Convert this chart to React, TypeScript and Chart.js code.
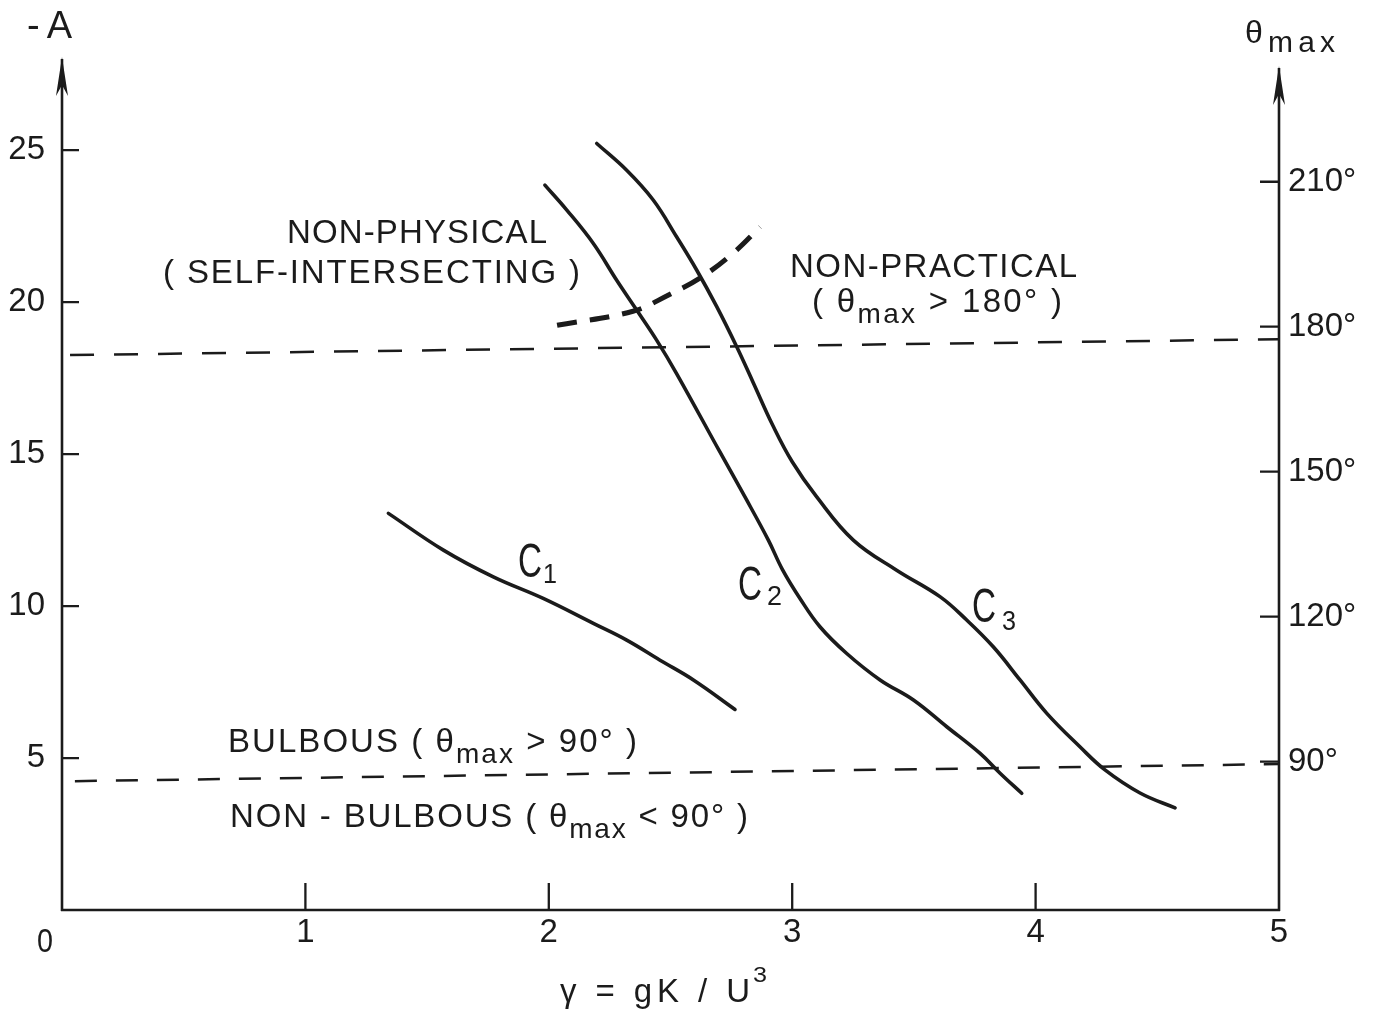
import React, { useEffect, useRef } from 'react';
import { Chart, registerables } from 'chart.js';

Chart.register(...registerables);

const FONT = "'Liberation Sans Narrow', 'Liberation Sans', Arial, sans-serif";
const INK = '#1b1b1b';

// Axis ticks
const xTicks = [1, 2, 3, 4, 5];
const aTicks = [5, 10, 15, 20, 25];
const thetaTicks = [90, 120, 150, 180, 210];

// Curve C1
const c1Gamma = [1.341, 1.567, 1.772, 1.977, 2.183, 2.32, 2.457, 2.594, 2.765];
const c1A = [13.05, 11.84, 10.96, 10.25, 9.43, 8.88, 8.22, 7.57, 6.6];

// Curve C2
const c2Gamma = [1.984, 2.074, 2.183, 2.279, 2.361, 2.443, 2.525, 2.703, 2.806, 2.902, 2.96, 3.032, 3.114, 3.224, 3.361, 3.498, 3.635, 3.772, 3.854, 3.943];
const c2A = [23.85, 23.03, 21.93, 20.72, 19.74, 18.75, 17.65, 15.07, 13.59, 12.17, 11.2, 10.25, 9.32, 8.44, 7.57, 6.91, 6.03, 5.15, 4.5, 3.84];

// Curve C3
const c3Gamma = [2.197, 2.32, 2.429, 2.525, 2.608, 2.69, 2.772, 2.84, 2.92, 3.0, 3.1, 3.251, 3.429, 3.607, 3.717, 3.826, 3.936, 4.046, 4.182, 4.285, 4.429, 4.573];
const c3A = [25.22, 24.34, 23.36, 22.15, 21.05, 19.85, 18.53, 17.35, 15.95, 14.75, 13.6, 12.17, 11.18, 10.31, 9.54, 8.66, 7.57, 6.47, 5.37, 4.61, 3.85, 3.36];

// Self-intersection boundary (heavy dashed)
const limitGamma = [2.034, 2.346, 2.49, 2.621, 2.757, 2.868];
const limitA = [19.24, 19.7, 20.23, 20.79, 21.61, 22.47];

// theta_max = 180 deg and 90 deg boundaries (as drawn)
const line180Gamma = [0.033, 5];
const line180A = [18.26, 18.78];
const line90Gamma = [0.053, 5];
const line90A = [4.24, 4.8];

type Seg = { t: string; size: number; dy?: number };

function drawFitted(ctx: CanvasRenderingContext2D, segs: Seg[], left: number, baseline: number, width: number) {
  const chars: { ch: string; size: number; dy: number; w: number }[] = [];
  segs.forEach((s) => {
    ctx.font = `${s.size}px ${FONT}`;
    for (const ch of s.t) chars.push({ ch, size: s.size, dy: s.dy || 0, w: ctx.measureText(ch).width });
  });
  const nat = chars.reduce((a, c) => a + c.w, 0);
  let sp = chars.length > 1 ? (width - nat) / (chars.length - 1) : 0;
  let sx = 1;
  if (chars.length === 1 || sp < 0) {
    sp = 0;
    sx = width / nat;
  }
  let x = left;
  ctx.fillStyle = INK;
  ctx.textAlign = 'left';
  ctx.textBaseline = 'alphabetic';
  for (const c of chars) {
    ctx.font = `${c.size}px ${FONT}`;
    ctx.save();
    ctx.translate(x, baseline + c.dy);
    ctx.scale(sx, 1);
    ctx.fillText(c.ch, 0, 0);
    ctx.restore();
    x += c.w * sx + sp;
  }
}

const mk = (xs: number[], ys: number[]) => xs.map((x, i) => ({ x, y: ys[i] }));

const decorPlugin = {
  id: 'decor',
  beforeDraw(chart: any) {
    const ctx = chart.ctx;
    ctx.save();
    ctx.fillStyle = '#ffffff';
    ctx.fillRect(0, 0, chart.width, chart.height);
    ctx.restore();
  },
  afterDraw(chart: any) {
    const ctx: CanvasRenderingContext2D = chart.ctx;
    const { left: L, right: R, top: T, bottom: B } = chart.chartArea;
    const xs = chart.scales.x;
    const ys = chart.scales.y;
    const ts = chart.scales.y2;
    ctx.save();
    ctx.strokeStyle = INK;
    ctx.fillStyle = INK;
    ctx.lineWidth = 2.6;
    ctx.lineCap = 'butt';
    ctx.setLineDash([]);
    // axes
    ctx.beginPath();
    ctx.moveTo(L, B + 1);
    ctx.lineTo(L, T);
    ctx.moveTo(L - 1, B);
    ctx.lineTo(R + 1, B);
    ctx.moveTo(R, B + 1);
    ctx.lineTo(R, T + 9);
    ctx.stroke();
    // arrowheads
    const arrow = (x: number, tip: number) => {
      ctx.beginPath();
      ctx.moveTo(x, tip - 2);
      ctx.lineTo(x - 6, tip + 37);
      ctx.lineTo(x, tip + 26);
      ctx.lineTo(x + 6, tip + 37);
      ctx.closePath();
      ctx.fill();
    };
    arrow(L, T);
    arrow(R, T + 9);
    // tick marks
    ctx.lineWidth = 2.3;
    ctx.beginPath();
    xTicks.forEach((v) => {
      if (v >= 5) return;
      const px = xs.getPixelForValue(v);
      ctx.moveTo(px, B);
      ctx.lineTo(px, B - 27);
    });
    aTicks.forEach((v) => {
      const py = ys.getPixelForValue(v);
      ctx.moveTo(L, py);
      ctx.lineTo(L + 17, py);
    });
    thetaTicks.forEach((v) => {
      const py = ts.getPixelForValue(v);
      ctx.moveTo(R - 19, py);
      ctx.lineTo(R, py);
    });
    ctx.stroke();

    // texts
    drawFitted(ctx, [{ t: '0', size: 33 }], 37, 952, 16);
    drawFitted(ctx, [{ t: '-A', size: 38 }], 27, 38, 45);
    drawFitted(ctx, [{ t: 'θ', size: 32 }, { t: 'max', size: 30, dy: 9 }], 1245, 43, 90);
    drawFitted(ctx, [{ t: 'γ = gK / U', size: 33 }], 560, 1002, 190);
    drawFitted(ctx, [{ t: '3', size: 22 }], 753, 982, 14);

    drawFitted(ctx, [{ t: 'NON-PHYSICAL', size: 33 }], 287, 243, 260);
    drawFitted(ctx, [{ t: '( SELF-INTERSECTING )', size: 33 }], 163, 283, 417);
    drawFitted(ctx, [{ t: 'NON-PRACTICAL', size: 33 }], 790, 277, 287);
    drawFitted(ctx, [{ t: '( θ', size: 33 }, { t: 'max', size: 28, dy: 11 }, { t: ' > 180° )', size: 33 }], 812, 312, 250);
    drawFitted(ctx, [{ t: 'BULBOUS ( θ', size: 33 }, { t: 'max', size: 28, dy: 11 }, { t: ' > 90° )', size: 33 }], 228, 752, 409);
    drawFitted(ctx, [{ t: 'NON - BULBOUS ( θ', size: 33 }, { t: 'max', size: 28, dy: 11 }, { t: ' < 90° )', size: 33 }], 230, 827, 518);

    drawFitted(ctx, [{ t: 'C', size: 48 }], 518, 577, 24);
    drawFitted(ctx, [{ t: '1', size: 28 }], 543, 583, 14);
    drawFitted(ctx, [{ t: 'C', size: 48 }], 738, 600, 24);
    drawFitted(ctx, [{ t: '2', size: 28 }], 767, 605, 15);
    drawFitted(ctx, [{ t: 'C', size: 48 }], 972, 622, 24);
    drawFitted(ctx, [{ t: '3', size: 28 }], 1002, 630, 14);
    ctx.restore();
  },
};

export default function App() {
  const ref = useRef<HTMLCanvasElement>(null);
  useEffect(() => {
    document.body.style.margin = '0';
    const solid = (label: string, xs: number[], ys: number[]) => ({
      label,
      data: mk(xs, ys),
      borderColor: INK,
      borderWidth: 3.6,
      pointRadius: 0,
      tension: 0.4,
      borderCapStyle: 'round' as const,
      yAxisID: 'y',
    });
    const chart = new Chart(ref.current!, {
      type: 'line',
      data: {
        datasets: [
          solid('C1', c1Gamma, c1A),
          solid('C2', c2Gamma, c2A),
          solid('C3', c3Gamma, c3A),
          {
            label: 'self-intersection limit',
            data: mk(limitGamma, limitA),
            borderColor: INK,
            borderWidth: 5,
            borderDash: [20, 13],
            pointRadius: 0,
            tension: 0.4,
            yAxisID: 'y',
          },
          {
            label: 'θmax = 180°',
            data: mk(line180Gamma, line180A),
            borderColor: INK,
            borderWidth: 2.5,
            borderDash: [24, 20],
            pointRadius: 0,
            tension: 0,
            yAxisID: 'y',
          },
          {
            label: 'θmax = 90°',
            data: mk(line90Gamma, line90A),
            borderColor: INK,
            borderWidth: 2.5,
            borderDash: [22, 19],
            pointRadius: 0,
            tension: 0,
            yAxisID: 'y',
          },
        ],
      },
      options: {
        animation: false,
        responsive: false,
        maintainAspectRatio: false,
        layout: { padding: { top: 59, left: 0, right: 0, bottom: 0 } },
        plugins: { legend: { display: false }, tooltip: { enabled: false } },
        scales: {
          x: {
            type: 'linear',
            min: 0,
            max: 5,
            position: 'bottom',
            grid: { display: false, drawTicks: false },
            border: { display: false },
            afterBuildTicks: (s: any) => {
              s.ticks = xTicks.map((v) => ({ value: v }));
            },
            afterFit: (s: any) => {
              s.height = 102;
            },
            ticks: { font: { family: FONT, size: 33 }, color: INK, padding: 3, maxRotation: 0, autoSkip: false },
          },
          y: {
            type: 'linear',
            min: 0,
            max: 28,
            position: 'left',
            grid: { display: false, drawTicks: false },
            border: { display: false },
            afterBuildTicks: (s: any) => {
              s.ticks = aTicks.map((v) => ({ value: v }));
            },
            afterFit: (s: any) => {
              s.width = 62;
            },
            ticks: { font: { family: FONT, size: 33 }, color: INK, padding: 17, autoSkip: false },
          },
          y2: {
            type: 'linear',
            min: 59.3,
            max: 235.4,
            position: 'right',
            grid: { display: false, drawTicks: false },
            border: { display: false },
            afterBuildTicks: (s: any) => {
              s.ticks = thetaTicks.map((v) => ({ value: v }));
            },
            afterFit: (s: any) => {
              s.width = 94;
            },
            ticks: {
              font: { family: FONT, size: 33 },
              color: INK,
              padding: 9,
              autoSkip: false,
              callback: (v: any) => `${v}°`,
            },
          },
        },
      },
      plugins: [decorPlugin],
    });
    return () => chart.destroy();
  }, []);
  return (
    <div style={{ width: 1373, height: 1012, background: '#fff' }}>
      <canvas ref={ref} width={1373} height={1012} style={{ display: 'block', width: 1373, height: 1012 }} />
    </div>
  );
}
